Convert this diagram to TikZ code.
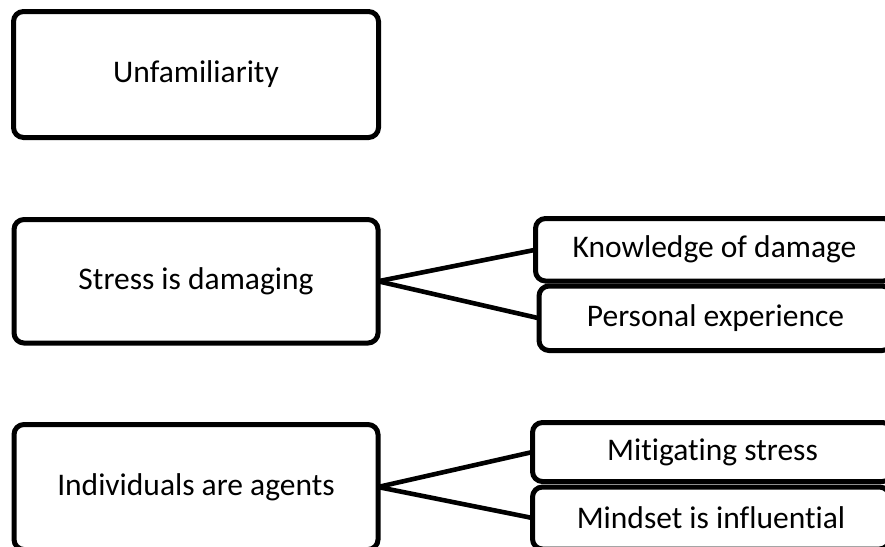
\documentclass[tikz,border=0pt]{standalone}
\usepackage{fontspec}
\setmainfont[Ligatures={NoCommon}]{Carlito}
\begin{document}
\begin{tikzpicture}[x=1pt,y=-1pt,
  box/.style={draw=black, line width=5pt, rounded corners=10pt, fill=white,
    inner sep=0pt, outer sep=0pt, font=\fontsize{31.5}{37}\selectfont},
  link/.style={draw=black, line width=4.6pt}]
\useasboundingbox (0,0) rectangle (885,546);
\clip (0,0) rectangle (885,546);
\node[box, minimum width=365pt, minimum height=126pt] (unf) at (196,74.5) {Unfamiliarity};
\node[box, minimum width=364pt, minimum height=123.5pt] (stress) at (196,281.25) {Stress is damaging};
\node[box, minimum width=364pt, minimum height=125pt] (indiv) at (196,487) {Individuals are agents};
\node[box, minimum width=358pt, minimum height=62.5pt] (know) at (714.5,249.75) {Knowledge of damage};
\node[box, minimum width=353pt, minimum height=64.5pt] (pers) at (715.5,318.25) {Personal experience};
\node[box, minimum width=360pt, minimum height=59pt] (mitig) at (712.5,452) {Mitigating stress};
\node[box, minimum width=357pt, minimum height=62pt] (mind) at (711,518) {Mindset is influential};
\draw[link] (stress.east) -- (know.west);
\draw[link] (stress.east) -- (pers.west);
\draw[link] (indiv.east) -- (mitig.west);
\draw[link] (indiv.east) -- (mind.west);
\end{tikzpicture}
\end{document}
